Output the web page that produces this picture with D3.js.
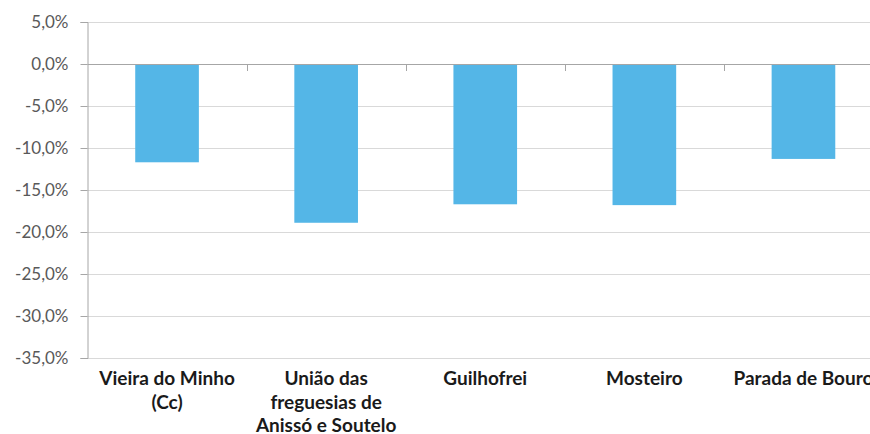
<!DOCTYPE html>
<html>
<head>
<meta charset="utf-8">
<script src="https://cdn.jsdelivr.net/npm/d3@7"></script>
<style>
  html, body { margin: 0; padding: 0; background: #fff; }
  svg { display: block; font-family: Lato, "Open Sans", sans-serif; }
</style>
</head>
<body>
<svg id="chart" width="870" height="434"></svg>
<script>
// Population change by parish (%)
const categories = [
  "Vieira do Minho (Cc)",
  "União das freguesias de Anissó e Soutelo",
  "Guilhofrei",
  "Mosteiro",
  "Parada de Bouro"
];
const values = [-11.7, -18.9, -16.7, -16.8, -11.3];
const yTicks = [5, 0, -5, -10, -15, -20, -25, -30, -35];

const svg = d3.select("#chart");
const margin = { left: 87.5, right: -13, top: 22, bottom: 76 };
const W = 870, H = 434;

const x = d3.scaleBand()
  .domain(categories)
  .range([margin.left, W - margin.right])
  .paddingInner(0.6)
  .paddingOuter(0.3);

const y = d3.scaleLinear()
  .domain([-35, 5])
  .range([H - margin.bottom, margin.top]);

const fmt = v => d3.format(".1f")(v).replace(".", ",").replace("−", "-") + "%";

// horizontal gridlines
svg.append("g")
  .selectAll("line")
  .data(yTicks.filter(d => d !== 0))
  .join("line")
  .attr("x1", margin.left).attr("x2", W)
  .attr("y1", d => Math.round(y(d)) + 0.5).attr("y2", d => Math.round(y(d)) + 0.5)
  .attr("stroke", "#d9d9d9").attr("stroke-width", 1);

// value axis
const yAxis = d3.axisLeft(y)
  .tickValues(yTicks)
  .tickSize(7)
  .tickFormat(fmt);
const gy = svg.append("g")
  .attr("transform", `translate(${margin.left},0)`)
  .call(yAxis);
gy.select(".domain").attr("stroke", "#a6a6a6");
gy.selectAll(".tick line").attr("stroke", "#a6a6a6");
gy.selectAll(".tick text")
  .attr("x", -19)
  .attr("fill", "#595959")
  .style("font-size", "17px")
  .style("font-family", "Lato, sans-serif");
gy.attr("font-family", null).attr("font-size", null);

// bars
svg.append("g")
  .selectAll("rect")
  .data(values)
  .join("rect")
  .attr("x", (d, i) => x(categories[i]))
  .attr("width", x.bandwidth())
  .attr("y", d => y(Math.max(0, d)))
  .attr("height", d => Math.abs(y(d) - y(0)))
  .attr("fill", "#54b6e7");

// category axis along zero, ticks between categories
const bounds = d3.range(categories.length + 1).map(i => margin.left + i * (W - margin.right - margin.left) / categories.length);
const gx = svg.append("g");
gx.append("line")
  .attr("x1", margin.left).attr("x2", W)
  .attr("y1", Math.round(y(0)) + 0.5).attr("y2", Math.round(y(0)) + 0.5)
  .attr("stroke", "#a6a6a6");
gx.selectAll("line.tk")
  .data(bounds.slice(1))
  .join("line")
  .attr("class", "tk")
  .attr("x1", d => Math.round(d) + 0.5).attr("x2", d => Math.round(d) + 0.5)
  .attr("y1", Math.round(y(0))).attr("y2", Math.round(y(0)) + 7)
  .attr("stroke", "#a6a6a6");

// category labels below the plot, wrapped to the band width
const labelWidth = 162;
const labels = svg.append("g")
  .selectAll("text")
  .data(categories)
  .join("text")
  .attr("x", d => x(d) + x.bandwidth() / 2)
  .attr("y", 385)
  .attr("text-anchor", "middle")
  .attr("fill", "#1a1a1a")
  .style("font-size", "19px")
  .style("font-weight", "bold");

labels.each(function (d) {
  const t = d3.select(this);
  const words = d.split(" ");
  const cx = t.attr("x");
  let line = [];
  let tspan = t.append("tspan").attr("x", cx).attr("dy", 0);
  words.forEach(w => {
    line.push(w);
    tspan.text(line.join(" "));
    if (tspan.node().getComputedTextLength() > labelWidth && line.length > 1) {
      line.pop();
      tspan.text(line.join(" "));
      line = [w];
      tspan = t.append("tspan").attr("x", cx).attr("dy", 23.5).text(w);
    }
  });
});
</script>
</body>
</html>
